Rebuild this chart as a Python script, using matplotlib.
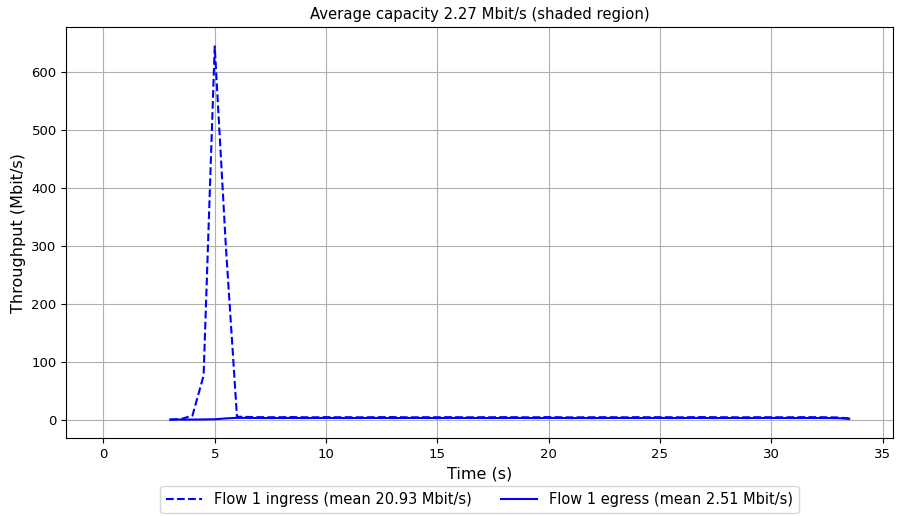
import matplotlib
matplotlib.use('Agg')
import matplotlib.pyplot as plt

# sample times (s), every 0.5 s from 3.0 to 33.5
times = [3.0, 3.5, 4.0, 4.5, 5.0, 5.5, 6.0, 6.5, 7.0, 7.5,
         8.0, 8.5, 9.0, 9.5, 10.0, 10.5, 11.0, 11.5, 12.0, 12.5,
         13.0, 13.5, 14.0, 14.5, 15.0, 15.5, 16.0, 16.5, 17.0, 17.5,
         18.0, 18.5, 19.0, 19.5, 20.0, 20.5, 21.0, 21.5, 22.0, 22.5,
         23.0, 23.5, 24.0, 24.5, 25.0, 25.5, 26.0, 26.5, 27.0, 27.5,
         28.0, 28.5, 29.0, 29.5, 30.0, 30.5, 31.0, 31.5, 32.0, 32.5,
         33.0, 33.5]

ingress = [0.0, 1.0, 7.0, 76.0, 645.0, 300.0, 5.0, 4.5, 4.2, 4.0,
           4.1, 4.3, 4.0, 3.9, 4.2, 4.0, 4.1, 3.9, 4.0, 4.2,
           4.3, 4.0, 3.9, 4.1, 4.0, 4.2, 4.0, 3.9, 4.1, 4.0,
           4.2, 4.1, 3.9, 4.0, 4.3, 4.0, 3.8, 3.9, 4.0, 4.1,
           4.0, 3.9, 4.2, 4.0, 4.1, 4.0, 3.9, 4.2, 4.3, 4.1,
           4.0, 3.9, 4.0, 4.1, 4.0, 3.9, 4.0, 4.2, 4.1, 4.0,
           3.6, 2.0]

egress = [0.0, 0.0, 0.0, 0.2, 0.5, 2.0, 3.0, 2.8, 2.7, 2.6,
          2.7, 2.8, 2.6, 2.7, 2.8, 2.7, 2.6, 2.7, 2.8, 2.7,
          2.6, 2.7, 2.8, 2.7, 2.6, 2.7, 2.8, 2.7, 2.7, 2.6,
          2.7, 2.8, 2.7, 2.6, 2.8, 2.7, 2.6, 2.7, 2.6, 2.7,
          2.8, 2.7, 2.6, 2.7, 2.8, 2.6, 2.7, 2.8, 2.7, 2.6,
          2.7, 2.7, 2.6, 2.7, 2.8, 2.7, 2.6, 2.7, 2.7, 2.6,
          2.4, 1.2]

title = 'Average capacity 2.27 Mbit/s (shaded region)'
ingress_label = 'Flow 1 ingress (mean 20.93 Mbit/s)'
egress_label = 'Flow 1 egress (mean 2.51 Mbit/s)'

fig, ax = plt.subplots(figsize=(8.98, 5.16), dpi=100)
fig.subplots_adjust(left=0.074, right=0.994, top=0.947, bottom=0.151)

ax.plot(times, ingress, color='blue', linestyle='--', label=ingress_label)
ax.plot(times, egress, color='blue', linestyle='-', label=egress_label)

ax.set_xlim(-1.66, 35.45)
ax.set_ylim(-32, 678)
ax.set_xticks([0, 5, 10, 15, 20, 25, 30, 35])
ax.set_yticks([0, 100, 200, 300, 400, 500, 600])
ax.grid(True, color='#b0b0b0', linewidth=0.8)
ax.tick_params(labelsize=9.5)

ax.set_title(title, fontsize=10.7)
ax.set_xlabel('Time (s)', fontsize=11.5)
ax.set_ylabel('Throughput (Mbit/s)', fontsize=11.5)

ax.legend(loc='upper center', bbox_to_anchor=(0.5, -0.1), ncol=2,
          fontsize=10.5, handlelength=2.5, columnspacing=2.0)

fig.savefig('out.png', dpi=100)
